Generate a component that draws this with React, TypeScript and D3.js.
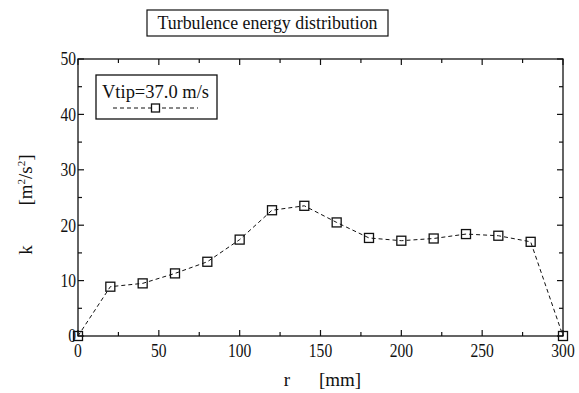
import React from "react";
import * as d3 from "d3";

const rValues = [0, 20, 40, 60, 80, 100, 120, 140, 160, 180, 200, 220, 240, 260, 280, 300];
const kValues = [0, 8.9, 9.5, 11.3, 13.4, 17.4, 22.7, 23.5, 20.5, 17.7, 17.2, 17.6, 18.4, 18.1, 17.0, 0];
const xTickLabels = [0, 50, 100, 150, 200, 250, 300];
const yTickLabels = [0, 10, 20, 30, 40, 50];
const xMinorTicks = d3.range(0, 301, 25);
const yMinorTicks = d3.range(0, 51, 5);
const titleText = "Turbulence energy distribution";
const legendText = "Vtip=37.0 m/s";

const W = 579, H = 393;
const left = 78, right = 563, top = 59, bottom = 336;
const font = "Liberation Serif, DejaVu Serif, Noto Serif, serif";

export default function App() {
  const x = d3.scaleLinear().domain([0, 300]).range([left, right]);
  const y = d3.scaleLinear().domain([0, 50]).range([bottom, top]);
  const line = d3.line<number>().x((_, i) => x(rValues[i])).y((d) => y(d));
  const pathD = line(kValues) || "";
  const ms = 9;
  const lg = { x0: 96, y0: 75, x1: 217, y1: 119 };
  const ts = { fontFamily: font };

  return (
    <svg width={W} height={H} style={{ position: "absolute", left: 0, top: 0, background: "#fff", fontFamily: font }}>
      <rect width={W} height={H} fill="#fff" />
      {/* title */}
      <rect x={147} y={10} width={241} height={26} fill="none" stroke="#111" strokeWidth={1.2} />
      <text x={267.5} y={29} textAnchor="middle" style={ts} fontSize={18} fill="#111"
        textLength={220} lengthAdjust="spacingAndGlyphs">{titleText}</text>

      {/* frame */}
      <rect x={left} y={top} width={right - left} height={bottom - top} fill="none" stroke="#111" strokeWidth={1.3} />
      {xMinorTicks.map((t) => (
        <g key={"xt" + t}>
          <line x1={x(t)} x2={x(t)} y1={bottom} y2={bottom - (t % 50 === 0 ? 6 : 4)} stroke="#111" strokeWidth={1.2} />
          <line x1={x(t)} x2={x(t)} y1={top} y2={top + (t % 50 === 0 ? 6 : 4)} stroke="#111" strokeWidth={1.2} />
        </g>
      ))}
      {yMinorTicks.map((t) => (
        <g key={"yt" + t}>
          <line x1={left} x2={left + (t % 10 === 0 ? 6 : 4)} y1={y(t)} y2={y(t)} stroke="#111" strokeWidth={1.2} />
          <line x1={right} x2={right - (t % 10 === 0 ? 6 : 4)} y1={y(t)} y2={y(t)} stroke="#111" strokeWidth={1.2} />
        </g>
      ))}
      {xTickLabels.map((t) => (
        <text key={"xl" + t} x={x(t)} y={bottom + 21} textAnchor="middle" style={ts} fontSize={19}
          fill="#111" transform={`translate(${x(t)},0) scale(0.82,1) translate(${-x(t)},0)`}>{t}</text>
      ))}
      {yTickLabels.map((t) => (
        <text key={"yl" + t} x={left - 2} y={y(t) + 6.5} textAnchor="end" style={ts} fontSize={19}
          fill="#111" transform={`translate(${left - 2},0) scale(0.82,1) translate(${-(left - 2)},0)`}>{t}</text>
      ))}

      {/* axis labels */}
      <text x={287} y={386} textAnchor="middle" style={ts} fontSize={19} fill="#111">r</text>
      <text x={340} y={386} textAnchor="middle" style={ts} fontSize={19} fill="#111">[mm]</text>
      <text transform="translate(32,250) rotate(-90)" textAnchor="middle" style={ts} fontSize={19} fill="#111">k</text>
      <text transform="translate(32,180) rotate(-90)" textAnchor="middle" style={ts} fontSize={19} fill="#111">
        [m<tspan fontSize={11} dy={-7}>2</tspan><tspan dy={7}>/s</tspan><tspan fontSize={11} dy={-7}>2</tspan><tspan dy={7}>]</tspan>
      </text>

      {/* series */}
      <path d={pathD} fill="none" stroke="#111" strokeWidth={1} strokeDasharray="4,3" />
      {kValues.map((k, i) => (
        <rect key={"m" + i} x={x(rValues[i]) - ms / 2} y={y(k) - ms / 2} width={ms} height={ms}
          fill="none" stroke="#111" strokeWidth={1.3} />
      ))}

      {/* legend */}
      <rect x={lg.x0} y={lg.y0} width={lg.x1 - lg.x0} height={lg.y1 - lg.y0} fill="#fff" stroke="#111" strokeWidth={1.3} />
      <text x={155.5} y={98} textAnchor="middle" style={ts} fontSize={19} fill="#111"
        textLength={107} lengthAdjust="spacingAndGlyphs">{legendText}</text>
      <line x1={113} x2={198} y1={108} y2={108} stroke="#111" strokeWidth={1} strokeDasharray="4,3" />
      <rect x={155.5 - 4} y={104} width={8} height={8} fill="#fff" stroke="#111" strokeWidth={1.3} />
    </svg>
  );
}
